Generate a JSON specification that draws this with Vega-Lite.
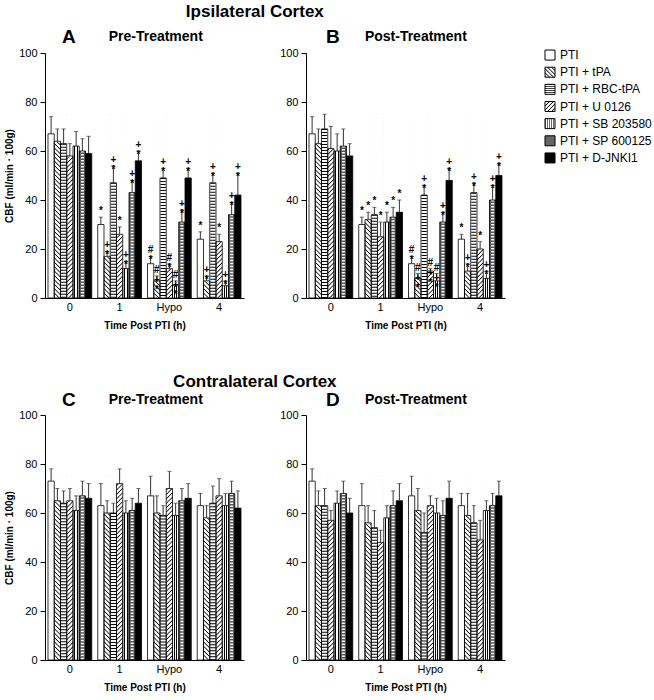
{
"$schema": "https://vega.github.io/schema/vega-lite/v6.json",
"background": "white",
"padding": {"left": 4, "top": 3, "right": 2, "bottom": 2},
"params": [
{"name": "hs", "value": [{"offset":0.003,"color":"#000"},{"offset":0.008,"color":"#fff"},{"offset":0.018,"color":"#fff"},{"offset":0.023,"color":"#000"},{"offset":0.028,"color":"#fff"},{"offset":0.038,"color":"#fff"},{"offset":0.043,"color":"#000"},{"offset":0.048,"color":"#fff"},{"offset":0.058,"color":"#fff"},{"offset":0.063,"color":"#000"},{"offset":0.068,"color":"#fff"},{"offset":0.078,"color":"#fff"},{"offset":0.083,"color":"#000"},{"offset":0.088,"color":"#fff"},{"offset":0.098,"color":"#fff"},{"offset":0.103,"color":"#000"},{"offset":0.108,"color":"#fff"},{"offset":0.118,"color":"#fff"},{"offset":0.123,"color":"#000"},{"offset":0.128,"color":"#fff"},{"offset":0.138,"color":"#fff"},{"offset":0.143,"color":"#000"},{"offset":0.148,"color":"#fff"},{"offset":0.158,"color":"#fff"},{"offset":0.163,"color":"#000"},{"offset":0.168,"color":"#fff"},{"offset":0.178,"color":"#fff"},{"offset":0.183,"color":"#000"},{"offset":0.188,"color":"#fff"},{"offset":0.198,"color":"#fff"},{"offset":0.203,"color":"#000"},{"offset":0.208,"color":"#fff"},{"offset":0.218,"color":"#fff"},{"offset":0.223,"color":"#000"},{"offset":0.228,"color":"#fff"},{"offset":0.238,"color":"#fff"},{"offset":0.243,"color":"#000"},{"offset":0.248,"color":"#fff"},{"offset":0.258,"color":"#fff"},{"offset":0.263,"color":"#000"},{"offset":0.268,"color":"#fff"},{"offset":0.278,"color":"#fff"},{"offset":0.283,"color":"#000"},{"offset":0.288,"color":"#fff"},{"offset":0.298,"color":"#fff"},{"offset":0.303,"color":"#000"},{"offset":0.308,"color":"#fff"},{"offset":0.318,"color":"#fff"},{"offset":0.323,"color":"#000"},{"offset":0.328,"color":"#fff"},{"offset":0.338,"color":"#fff"},{"offset":0.343,"color":"#000"},{"offset":0.348,"color":"#fff"},{"offset":0.358,"color":"#fff"},{"offset":0.363,"color":"#000"},{"offset":0.368,"color":"#fff"},{"offset":0.378,"color":"#fff"},{"offset":0.383,"color":"#000"},{"offset":0.388,"color":"#fff"},{"offset":0.398,"color":"#fff"},{"offset":0.403,"color":"#000"},{"offset":0.408,"color":"#fff"},{"offset":0.418,"color":"#fff"},{"offset":0.423,"color":"#000"},{"offset":0.428,"color":"#fff"},{"offset":0.438,"color":"#fff"},{"offset":0.443,"color":"#000"},{"offset":0.448,"color":"#fff"},{"offset":0.458,"color":"#fff"},{"offset":0.463,"color":"#000"},{"offset":0.468,"color":"#fff"},{"offset":0.478,"color":"#fff"},{"offset":0.483,"color":"#000"},{"offset":0.488,"color":"#fff"},{"offset":0.498,"color":"#fff"},{"offset":0.503,"color":"#000"},{"offset":0.508,"color":"#fff"},{"offset":0.518,"color":"#fff"},{"offset":0.523,"color":"#000"},{"offset":0.528,"color":"#fff"},{"offset":0.538,"color":"#fff"},{"offset":0.543,"color":"#000"},{"offset":0.548,"color":"#fff"},{"offset":0.558,"color":"#fff"},{"offset":0.563,"color":"#000"},{"offset":0.568,"color":"#fff"},{"offset":0.578,"color":"#fff"},{"offset":0.583,"color":"#000"},{"offset":0.588,"color":"#fff"},{"offset":0.598,"color":"#fff"},{"offset":0.603,"color":"#000"},{"offset":0.608,"color":"#fff"},{"offset":0.618,"color":"#fff"},{"offset":0.623,"color":"#000"},{"offset":0.628,"color":"#fff"},{"offset":0.638,"color":"#fff"},{"offset":0.643,"color":"#000"},{"offset":0.648,"color":"#fff"},{"offset":0.658,"color":"#fff"},{"offset":0.663,"color":"#000"},{"offset":0.668,"color":"#fff"},{"offset":0.678,"color":"#fff"},{"offset":0.683,"color":"#000"},{"offset":0.688,"color":"#fff"},{"offset":0.698,"color":"#fff"},{"offset":0.703,"color":"#000"},{"offset":0.708,"color":"#fff"},{"offset":0.718,"color":"#fff"},{"offset":0.723,"color":"#000"},{"offset":0.728,"color":"#fff"},{"offset":0.738,"color":"#fff"},{"offset":0.743,"color":"#000"},{"offset":0.748,"color":"#fff"},{"offset":0.758,"color":"#fff"},{"offset":0.763,"color":"#000"},{"offset":0.768,"color":"#fff"},{"offset":0.778,"color":"#fff"},{"offset":0.783,"color":"#000"},{"offset":0.788,"color":"#fff"},{"offset":0.798,"color":"#fff"},{"offset":0.803,"color":"#000"},{"offset":0.808,"color":"#fff"},{"offset":0.818,"color":"#fff"},{"offset":0.823,"color":"#000"},{"offset":0.828,"color":"#fff"},{"offset":0.838,"color":"#fff"},{"offset":0.843,"color":"#000"},{"offset":0.848,"color":"#fff"},{"offset":0.858,"color":"#fff"},{"offset":0.863,"color":"#000"},{"offset":0.868,"color":"#fff"},{"offset":0.878,"color":"#fff"}]},
{"name": "ls", "value": [{"offset":0.03,"color":"#000"},{"offset":0.08,"color":"#fff"},{"offset":0.17,"color":"#fff"},{"offset":0.23,"color":"#000"},{"offset":0.28,"color":"#fff"},{"offset":0.37,"color":"#fff"},{"offset":0.43,"color":"#000"},{"offset":0.48,"color":"#fff"},{"offset":0.57,"color":"#fff"},{"offset":0.63,"color":"#000"},{"offset":0.68,"color":"#fff"},{"offset":0.77,"color":"#fff"},{"offset":0.83,"color":"#000"},{"offset":0.88,"color":"#fff"},{"offset":0.97,"color":"#fff"}]},
{"name": "gBack", "expr": "{gradient: 'linear', x1: 0, y1: 1, x2: 0.0407, y2: -0.196, stops: hs}"},
{"name": "gFwd", "expr": "{gradient: 'linear', x1: 0, y1: 0, x2: 0.0407, y2: 1.196, stops: hs}"},
{"name": "gV", "value": {"gradient": "linear", "x1": 0, "y1": 0, "x2": 1, "y2": 0, "stops": [{"offset":0,"color":"#fff"},{"offset":0.2,"color":"#fff"},{"offset":0.2,"color":"#000"},{"offset":0.36,"color":"#000"},{"offset":0.36,"color":"#fff"},{"offset":0.6,"color":"#fff"},{"offset":0.6,"color":"#000"},{"offset":0.76,"color":"#000"},{"offset":0.76,"color":"#fff"},{"offset":1,"color":"#fff"}]}},
{"name": "lBack", "expr": "{gradient: 'linear', x1: 0, y1: 1, x2: 1, y2: 0, stops: ls}"},
{"name": "lFwd", "expr": "{gradient: 'linear', x1: 0, y1: 0, x2: 1, y2: 1, stops: ls}"},
{"name": "lH", "expr": "{gradient: 'linear', x1: 0, y1: 0, x2: 0, y2: 1, stops: ls}"},
{"name": "lV", "expr": "{gradient: 'linear', x1: 0, y1: 0, x2: 1, y2: 0, stops: ls}"}
],
"data": {"values": [
{"p":"A","t":"0","g":"PTI","m":67,"hi":74},
{"p":"A","t":"0","g":"PTI + tPA","m":64,"hi":69},
{"p":"A","t":"0","g":"PTI + RBC-tPA","m":63,"hi":69},
{"p":"A","t":"0","g":"PTI + U 0126","m":58,"hi":63},
{"p":"A","t":"0","g":"PTI + SB 203580","m":62,"hi":68},
{"p":"A","t":"0","g":"PTI + SP 600125","m":60,"hi":65},
{"p":"A","t":"0","g":"PTI + D-JNKI1","m":59,"hi":66},
{"p":"A","t":"1","g":"PTI","m":30,"hi":33,"s":"*"},
{"p":"A","t":"1","g":"PTI + tPA","m":17,"hi":19,"s":"+\n*"},
{"p":"A","t":"1","g":"PTI + RBC-tPA","m":47,"hi":54,"s":"+\n*"},
{"p":"A","t":"1","g":"PTI + U 0126","m":26,"hi":29,"s":"*"},
{"p":"A","t":"1","g":"PTI + SB 203580","m":12,"hi":15,"s":"+\n*"},
{"p":"A","t":"1","g":"PTI + SP 600125","m":43,"hi":48,"s":"+\n*"},
{"p":"A","t":"1","g":"PTI + D-JNKI1","m":56,"hi":60,"s":"+\n*"},
{"p":"A","t":"Hypo","g":"PTI","m":14,"hi":17,"s":"#\n*"},
{"p":"A","t":"Hypo","g":"PTI + tPA","m":7,"hi":9,"s":"#\n+\n*"},
{"p":"A","t":"Hypo","g":"PTI + RBC-tPA","m":49,"hi":53,"s":"+\n*"},
{"p":"A","t":"Hypo","g":"PTI + U 0126","m":12,"hi":14,"s":"#\n*"},
{"p":"A","t":"Hypo","g":"PTI + SB 203580","m":5,"hi":7,"s":"#\n+\n*"},
{"p":"A","t":"Hypo","g":"PTI + SP 600125","m":31,"hi":36,"s":"+\n*"},
{"p":"A","t":"Hypo","g":"PTI + D-JNKI1","m":49,"hi":53,"s":"+\n*"},
{"p":"A","t":"4","g":"PTI","m":24,"hi":27,"s":"*"},
{"p":"A","t":"4","g":"PTI + tPA","m":7,"hi":9,"s":"+\n*"},
{"p":"A","t":"4","g":"PTI + RBC-tPA","m":47,"hi":51,"s":"+\n*"},
{"p":"A","t":"4","g":"PTI + U 0126","m":23,"hi":26,"s":"*"},
{"p":"A","t":"4","g":"PTI + SB 203580","m":5,"hi":7,"s":"+\n*"},
{"p":"A","t":"4","g":"PTI + SP 600125","m":34,"hi":39,"s":"+\n*"},
{"p":"A","t":"4","g":"PTI + D-JNKI1","m":42,"hi":51,"s":"+\n*"},
{"p":"B","t":"0","g":"PTI","m":67,"hi":74},
{"p":"B","t":"0","g":"PTI + tPA","m":63,"hi":69},
{"p":"B","t":"0","g":"PTI + RBC-tPA","m":69,"hi":75},
{"p":"B","t":"0","g":"PTI + U 0126","m":61,"hi":70},
{"p":"B","t":"0","g":"PTI + SB 203580","m":60,"hi":67},
{"p":"B","t":"0","g":"PTI + SP 600125","m":62,"hi":69},
{"p":"B","t":"0","g":"PTI + D-JNKI1","m":58,"hi":63},
{"p":"B","t":"1","g":"PTI","m":30,"hi":33,"s":"*"},
{"p":"B","t":"1","g":"PTI + tPA","m":32,"hi":35,"s":"*"},
{"p":"B","t":"1","g":"PTI + RBC-tPA","m":34,"hi":37,"s":"*"},
{"p":"B","t":"1","g":"PTI + U 0126","m":25,"hi":31,"s":"*"},
{"p":"B","t":"1","g":"PTI + SB 203580","m":31,"hi":35,"s":"*"},
{"p":"B","t":"1","g":"PTI + SP 600125","m":33,"hi":37,"s":"*"},
{"p":"B","t":"1","g":"PTI + D-JNKI1","m":35,"hi":40,"s":"*"},
{"p":"B","t":"Hypo","g":"PTI","m":14,"hi":17,"s":"#\n*"},
{"p":"B","t":"Hypo","g":"PTI + tPA","m":8,"hi":10,"s":"#\n+\n*"},
{"p":"B","t":"Hypo","g":"PTI + RBC-tPA","m":42,"hi":46,"s":"+\n*"},
{"p":"B","t":"Hypo","g":"PTI + U 0126","m":11,"hi":12,"s":"#\n+\n*"},
{"p":"B","t":"Hypo","g":"PTI + SB 203580","m":7,"hi":10,"s":"#\n+\n*"},
{"p":"B","t":"Hypo","g":"PTI + SP 600125","m":31,"hi":35,"s":"+\n*"},
{"p":"B","t":"Hypo","g":"PTI + D-JNKI1","m":48,"hi":53,"s":"+\n*"},
{"p":"B","t":"4","g":"PTI","m":24,"hi":26,"s":"*"},
{"p":"B","t":"4","g":"PTI + tPA","m":11,"hi":14,"s":"+\n*"},
{"p":"B","t":"4","g":"PTI + RBC-tPA","m":43,"hi":47,"s":"+\n*"},
{"p":"B","t":"4","g":"PTI + U 0126","m":20,"hi":23,"s":"*"},
{"p":"B","t":"4","g":"PTI + SB 203580","m":8,"hi":11,"s":"+\n*"},
{"p":"B","t":"4","g":"PTI + SP 600125","m":40,"hi":46,"s":"+\n*"},
{"p":"B","t":"4","g":"PTI + D-JNKI1","m":50,"hi":55,"s":"+\n*"},
{"p":"C","t":"0","g":"PTI","m":73,"hi":78},
{"p":"C","t":"0","g":"PTI + tPA","m":65,"hi":70},
{"p":"C","t":"0","g":"PTI + RBC-tPA","m":64,"hi":69},
{"p":"C","t":"0","g":"PTI + U 0126","m":65,"hi":70},
{"p":"C","t":"0","g":"PTI + SB 203580","m":61,"hi":67},
{"p":"C","t":"0","g":"PTI + SP 600125","m":67,"hi":73},
{"p":"C","t":"0","g":"PTI + D-JNKI1","m":66,"hi":72},
{"p":"C","t":"1","g":"PTI","m":63,"hi":72},
{"p":"C","t":"1","g":"PTI + tPA","m":60,"hi":65},
{"p":"C","t":"1","g":"PTI + RBC-tPA","m":60,"hi":64},
{"p":"C","t":"1","g":"PTI + U 0126","m":72,"hi":78},
{"p":"C","t":"1","g":"PTI + SB 203580","m":60,"hi":65},
{"p":"C","t":"1","g":"PTI + SP 600125","m":61,"hi":66},
{"p":"C","t":"1","g":"PTI + D-JNKI1","m":64,"hi":70},
{"p":"C","t":"Hypo","g":"PTI","m":67,"hi":75},
{"p":"C","t":"Hypo","g":"PTI + tPA","m":60,"hi":67},
{"p":"C","t":"Hypo","g":"PTI + RBC-tPA","m":59,"hi":63},
{"p":"C","t":"Hypo","g":"PTI + U 0126","m":70,"hi":77},
{"p":"C","t":"Hypo","g":"PTI + SB 203580","m":59,"hi":64},
{"p":"C","t":"Hypo","g":"PTI + SP 600125","m":65,"hi":70},
{"p":"C","t":"Hypo","g":"PTI + D-JNKI1","m":66,"hi":72},
{"p":"C","t":"4","g":"PTI","m":63,"hi":68},
{"p":"C","t":"4","g":"PTI + tPA","m":58,"hi":63},
{"p":"C","t":"4","g":"PTI + RBC-tPA","m":64,"hi":71},
{"p":"C","t":"4","g":"PTI + U 0126","m":67,"hi":74},
{"p":"C","t":"4","g":"PTI + SB 203580","m":63,"hi":68},
{"p":"C","t":"4","g":"PTI + SP 600125","m":68,"hi":73},
{"p":"C","t":"4","g":"PTI + D-JNKI1","m":62,"hi":69},
{"p":"D","t":"0","g":"PTI","m":73,"hi":78},
{"p":"D","t":"0","g":"PTI + tPA","m":63,"hi":69},
{"p":"D","t":"0","g":"PTI + RBC-tPA","m":63,"hi":70},
{"p":"D","t":"0","g":"PTI + U 0126","m":57,"hi":61},
{"p":"D","t":"0","g":"PTI + SB 203580","m":64,"hi":69},
{"p":"D","t":"0","g":"PTI + SP 600125","m":68,"hi":73},
{"p":"D","t":"0","g":"PTI + D-JNKI1","m":60,"hi":66},
{"p":"D","t":"1","g":"PTI","m":63,"hi":72},
{"p":"D","t":"1","g":"PTI + tPA","m":56,"hi":63},
{"p":"D","t":"1","g":"PTI + RBC-tPA","m":54,"hi":61},
{"p":"D","t":"1","g":"PTI + U 0126","m":48,"hi":53},
{"p":"D","t":"1","g":"PTI + SB 203580","m":58,"hi":63},
{"p":"D","t":"1","g":"PTI + SP 600125","m":63,"hi":69},
{"p":"D","t":"1","g":"PTI + D-JNKI1","m":65,"hi":72},
{"p":"D","t":"Hypo","g":"PTI","m":67,"hi":75},
{"p":"D","t":"Hypo","g":"PTI + tPA","m":61,"hi":70},
{"p":"D","t":"Hypo","g":"PTI + RBC-tPA","m":52,"hi":60},
{"p":"D","t":"Hypo","g":"PTI + U 0126","m":63,"hi":67},
{"p":"D","t":"Hypo","g":"PTI + SB 203580","m":60,"hi":66},
{"p":"D","t":"Hypo","g":"PTI + SP 600125","m":59,"hi":65},
{"p":"D","t":"Hypo","g":"PTI + D-JNKI1","m":66,"hi":73},
{"p":"D","t":"4","g":"PTI","m":63,"hi":68},
{"p":"D","t":"4","g":"PTI + tPA","m":59,"hi":68},
{"p":"D","t":"4","g":"PTI + RBC-tPA","m":56,"hi":63},
{"p":"D","t":"4","g":"PTI + U 0126","m":49,"hi":57},
{"p":"D","t":"4","g":"PTI + SB 203580","m":61,"hi":65},
{"p":"D","t":"4","g":"PTI + SP 600125","m":63,"hi":68},
{"p":"D","t":"4","g":"PTI + D-JNKI1","m":67,"hi":73}
]},
"config": {
"font": "Liberation Sans",
"view": {"stroke": null},
"axis": {"grid": false, "labelFont": "Liberation Sans", "labelFontSize": 11, "labelColor": "#000", "domainColor": "#000", "tickColor": "#000", "titleFont": "Liberation Sans", "titleFontSize": 10, "titleFontWeight": "bold", "titleColor": "#000"},
"axisX": {"labelPadding": 3, "titlePadding": 8},
"axisY": {"values": [0,10,20,30,40,50,60,70,80,90,100], "labelExpr": "datum.value % 20 == 0 ? datum.label : ''", "tickSize": 5, "labelPadding": 3, "titlePadding": 4},
"title": {"font": "Liberation Sans", "fontWeight": "bold", "color": "#000", "subtitleFont": "Liberation Sans", "subtitleFontWeight": "bold", "subtitleColor": "#000"}
},
"spacing": 43,
"vconcat": [
{"spacing": 38, "hconcat": [
{"title": {"text": "Ipsilateral Cortex", "anchor": "middle", "fontSize": 17, "offset": 7}, "spacing": 35, "hconcat": [
{"width": 199, "height": 245,
"title": {"text": "A", "subtitle": "\u200b\u00a0\u00a0\u00a0\u00a0\u00a0\u00a0\u00a0\u00a0\u00a0\u00a0\u00a0\u00a0Pre-Treatment", "anchor": "start", "frame": "group", "dx": 17, "fontSize": 19, "subtitleFontSize": 14, "subtitlePadding": -17, "offset": 0},
"transform": [{"filter": "datum.p == 'A'"}],
"encoding": {
"x": {"field": "t", "type": "nominal", "sort": ["0","1","Hypo","4"], "scale": {"paddingInner": 0.12, "paddingOuter": 0.06}, "axis": {"title": "Time Post PTI (h)", "labelAngle": 0, "ticks": false}},
"xOffset": {"field": "g", "type": "nominal", "sort": ["PTI","PTI + tPA","PTI + RBC-tPA","PTI + U 0126","PTI + SB 203580","PTI + SP 600125","PTI + D-JNKI1"], "scale": {"domain": ["PTI","PTI + tPA","PTI + RBC-tPA","PTI + U 0126","PTI + SB 203580","PTI + SP 600125","PTI + D-JNKI1"], "paddingInner": 0, "paddingOuter": 0}},
"y": {"field": "m", "type": "quantitative", "scale": {"domain": [0, 100]}, "axis": {"title": "CBF (ml/min · 100g)"}}
},
"layer": [
{"mark": {"type": "bar"}, "encoding": {"fill": {"field": "g", "type": "nominal", "scale": {"domain": ["PTI","PTI + tPA","PTI + RBC-tPA","PTI + U 0126","PTI + SB 203580","PTI + SP 600125","PTI + D-JNKI1"], "range": ["#fff","#fff","#fff","#fff","#fff","#555","#000"]}, "legend": null}}},
{"transform": [{"filter": "datum.g == 'PTI + SB 203580'"}], "mark": {"type": "bar", "fill": {"expr": "gV"}}},
{"transform": [{"filter": "datum.g == 'PTI + RBC-tPA'"}], "mark": {"type": "rule", "strokeWidth": 6, "strokeDash": [1, 2], "color": "#000"}, "encoding": {"y2": {"datum": 0}}},
{"transform": [{"filter": "datum.g == 'PTI + tPA'"}], "mark": {"type": "bar", "fill": {"expr": "gBack"}}, "encoding": {"y": {"datum": 75, "type": "quantitative", "axis": {"title": "CBF (ml/min · 100g)"}}, "y2": {"datum": 0}}},
{"transform": [{"filter": "datum.g == 'PTI + U 0126'"}], "mark": {"type": "bar", "fill": {"expr": "gFwd"}}, "encoding": {"y": {"datum": 75, "type": "quantitative", "axis": {"title": "CBF (ml/min · 100g)"}}, "y2": {"datum": 0}}},
{"transform": [{"filter": "datum.g == 'PTI + tPA' || datum.g == 'PTI + U 0126'"}], "mark": {"type": "bar", "fill": "#fff", "stroke": "#fff", "strokeWidth": 1}, "encoding": {"y2": {"datum": 75}}},
{"transform": [{"filter": "datum.g == 'PTI + SP 600125'"}], "mark": {"type": "rule", "strokeWidth": 3, "strokeDash": [1.5, 1.5], "color": "#fff"}, "encoding": {"y2": {"datum": 0}}},
{"mark": {"type": "bar", "fillOpacity": 0, "stroke": "#000", "strokeWidth": 0.8}},
{"mark": {"type": "rule", "color": "#333", "strokeWidth": 1}, "encoding": {"y2": {"field": "hi"}}},
{"mark": {"type": "tick", "orient": "horizontal", "size": 4, "thickness": 1, "color": "#333"}, "encoding": {"y": {"field": "hi", "type": "quantitative", "axis": {"title": "CBF (ml/min · 100g)"}}}},
{"transform": [{"filter": "datum.s"}], "mark": {"type": "text", "baseline": "bottom", "dy": -1, "fontSize": 10, "fontWeight": "bold", "lineHeight": 10, "lineBreak": "\n", "color": "#000"}, "encoding": {"y": {"field": "hi", "type": "quantitative", "axis": {"title": "CBF (ml/min · 100g)"}}, "text": {"field": "s"}}}
]},
{"width": 199, "height": 245,
"title": {"text": "B", "subtitle": "\u200b\u00a0\u00a0\u00a0\u00a0\u00a0\u00a0\u00a0\u00a0\u00a0\u00a0Post-Treatment", "anchor": "start", "frame": "group", "dx": 20, "fontSize": 19, "subtitleFontSize": 14, "subtitlePadding": -17, "offset": 0},
"transform": [{"filter": "datum.p == 'B'"}],
"encoding": {
"x": {"field": "t", "type": "nominal", "sort": ["0","1","Hypo","4"], "scale": {"paddingInner": 0.12, "paddingOuter": 0.06}, "axis": {"title": "Time Post PTI (h)", "labelAngle": 0, "ticks": false}},
"xOffset": {"field": "g", "type": "nominal", "sort": ["PTI","PTI + tPA","PTI + RBC-tPA","PTI + U 0126","PTI + SB 203580","PTI + SP 600125","PTI + D-JNKI1"], "scale": {"domain": ["PTI","PTI + tPA","PTI + RBC-tPA","PTI + U 0126","PTI + SB 203580","PTI + SP 600125","PTI + D-JNKI1"], "paddingInner": 0, "paddingOuter": 0}},
"y": {"field": "m", "type": "quantitative", "scale": {"domain": [0, 100]}, "axis": {"title": null}}
},
"layer": [
{"mark": {"type": "bar"}, "encoding": {"fill": {"field": "g", "type": "nominal", "scale": {"domain": ["PTI","PTI + tPA","PTI + RBC-tPA","PTI + U 0126","PTI + SB 203580","PTI + SP 600125","PTI + D-JNKI1"], "range": ["#fff","#fff","#fff","#fff","#fff","#555","#000"]}, "legend": null}}},
{"transform": [{"filter": "datum.g == 'PTI + SB 203580'"}], "mark": {"type": "bar", "fill": {"expr": "gV"}}},
{"transform": [{"filter": "datum.g == 'PTI + RBC-tPA'"}], "mark": {"type": "rule", "strokeWidth": 6, "strokeDash": [1, 2], "color": "#000"}, "encoding": {"y2": {"datum": 0}}},
{"transform": [{"filter": "datum.g == 'PTI + tPA'"}], "mark": {"type": "bar", "fill": {"expr": "gBack"}}, "encoding": {"y": {"datum": 75, "type": "quantitative", "axis": {"title": null}}, "y2": {"datum": 0}}},
{"transform": [{"filter": "datum.g == 'PTI + U 0126'"}], "mark": {"type": "bar", "fill": {"expr": "gFwd"}}, "encoding": {"y": {"datum": 75, "type": "quantitative", "axis": {"title": null}}, "y2": {"datum": 0}}},
{"transform": [{"filter": "datum.g == 'PTI + tPA' || datum.g == 'PTI + U 0126'"}], "mark": {"type": "bar", "fill": "#fff", "stroke": "#fff", "strokeWidth": 1}, "encoding": {"y2": {"datum": 75}}},
{"transform": [{"filter": "datum.g == 'PTI + SP 600125'"}], "mark": {"type": "rule", "strokeWidth": 3, "strokeDash": [1.5, 1.5], "color": "#fff"}, "encoding": {"y2": {"datum": 0}}},
{"mark": {"type": "bar", "fillOpacity": 0, "stroke": "#000", "strokeWidth": 0.8}},
{"mark": {"type": "rule", "color": "#333", "strokeWidth": 1}, "encoding": {"y2": {"field": "hi"}}},
{"mark": {"type": "tick", "orient": "horizontal", "size": 4, "thickness": 1, "color": "#333"}, "encoding": {"y": {"field": "hi", "type": "quantitative", "axis": {"title": null}}}},
{"transform": [{"filter": "datum.s"}], "mark": {"type": "text", "baseline": "bottom", "dy": -1, "fontSize": 10, "fontWeight": "bold", "lineHeight": 10, "lineBreak": "\n", "color": "#000"}, "encoding": {"y": {"field": "hi", "type": "quantitative", "axis": {"title": null}}, "text": {"field": "s"}}}
]}
]},
{"width": 10, "height": 107,
"transform": [{"filter": "datum.p == 'A' && datum.t == '0'"}],
"encoding": {"y": {"field": "g", "type": "nominal", "sort": ["PTI","PTI + tPA","PTI + RBC-tPA","PTI + U 0126","PTI + SB 203580","PTI + SP 600125","PTI + D-JNKI1"], "scale": {"type": "point", "padding": 0.12, "domain": ["PTI","PTI + tPA","PTI + RBC-tPA","PTI + U 0126","PTI + SB 203580","PTI + SP 600125","PTI + D-JNKI1"]}, "axis": null}},
"layer": [
{"transform": [{"filter": "datum.g == 'PTI'"}], "mark": {"type": "square", "size": 100, "filled": true, "opacity": 1, "fill": "#fff", "stroke": "#000", "strokeWidth": 1}},
{"transform": [{"filter": "datum.g == 'PTI + tPA'"}], "mark": {"type": "square", "size": 100, "filled": true, "opacity": 1, "fill": {"expr": "lBack"}, "stroke": "#000", "strokeWidth": 1}},
{"transform": [{"filter": "datum.g == 'PTI + RBC-tPA'"}], "mark": {"type": "square", "size": 100, "filled": true, "opacity": 1, "fill": {"expr": "lH"}, "stroke": "#000", "strokeWidth": 1}},
{"transform": [{"filter": "datum.g == 'PTI + U 0126'"}], "mark": {"type": "square", "size": 100, "filled": true, "opacity": 1, "fill": {"expr": "lFwd"}, "stroke": "#000", "strokeWidth": 1}},
{"transform": [{"filter": "datum.g == 'PTI + SB 203580'"}], "mark": {"type": "square", "size": 100, "filled": true, "opacity": 1, "fill": {"expr": "lV"}, "stroke": "#000", "strokeWidth": 1}},
{"transform": [{"filter": "datum.g == 'PTI + SP 600125'"}], "mark": {"type": "square", "size": 100, "filled": true, "opacity": 1, "fill": "#666", "stroke": "#000", "strokeWidth": 1}},
{"transform": [{"filter": "datum.g == 'PTI + D-JNKI1'"}], "mark": {"type": "square", "size": 100, "filled": true, "opacity": 1, "fill": "#000", "stroke": "#000", "strokeWidth": 1}},
{"mark": {"type": "text", "align": "left", "dx": 10, "fontSize": 12, "color": "#000"}, "encoding": {"text": {"field": "g"}}}
]}
]},
{"title": {"text": "Contralateral Cortex", "anchor": "middle", "fontSize": 17, "offset": 0}, "spacing": 35, "hconcat": [
{"width": 199, "height": 245,
"title": {"text": "C", "subtitle": "\u200b\u00a0\u00a0\u00a0\u00a0\u00a0\u00a0\u00a0\u00a0\u00a0\u00a0\u00a0\u00a0Pre-Treatment", "anchor": "start", "frame": "group", "dx": 17, "fontSize": 19, "subtitleFontSize": 14, "subtitlePadding": -17, "offset": -1},
"transform": [{"filter": "datum.p == 'C'"}],
"encoding": {
"x": {"field": "t", "type": "nominal", "sort": ["0","1","Hypo","4"], "scale": {"paddingInner": 0.12, "paddingOuter": 0.06}, "axis": {"title": "Time Post PTI (h)", "labelAngle": 0, "ticks": false}},
"xOffset": {"field": "g", "type": "nominal", "sort": ["PTI","PTI + tPA","PTI + RBC-tPA","PTI + U 0126","PTI + SB 203580","PTI + SP 600125","PTI + D-JNKI1"], "scale": {"domain": ["PTI","PTI + tPA","PTI + RBC-tPA","PTI + U 0126","PTI + SB 203580","PTI + SP 600125","PTI + D-JNKI1"], "paddingInner": 0, "paddingOuter": 0}},
"y": {"field": "m", "type": "quantitative", "scale": {"domain": [0, 100]}, "axis": {"title": "CBF (ml/min · 100g)"}}
},
"layer": [
{"mark": {"type": "bar"}, "encoding": {"fill": {"field": "g", "type": "nominal", "scale": {"domain": ["PTI","PTI + tPA","PTI + RBC-tPA","PTI + U 0126","PTI + SB 203580","PTI + SP 600125","PTI + D-JNKI1"], "range": ["#fff","#fff","#fff","#fff","#fff","#555","#000"]}, "legend": null}}},
{"transform": [{"filter": "datum.g == 'PTI + SB 203580'"}], "mark": {"type": "bar", "fill": {"expr": "gV"}}},
{"transform": [{"filter": "datum.g == 'PTI + RBC-tPA'"}], "mark": {"type": "rule", "strokeWidth": 6, "strokeDash": [1, 2], "color": "#000"}, "encoding": {"y2": {"datum": 0}}},
{"transform": [{"filter": "datum.g == 'PTI + tPA'"}], "mark": {"type": "bar", "fill": {"expr": "gBack"}}, "encoding": {"y": {"datum": 75, "type": "quantitative", "axis": {"title": "CBF (ml/min · 100g)"}}, "y2": {"datum": 0}}},
{"transform": [{"filter": "datum.g == 'PTI + U 0126'"}], "mark": {"type": "bar", "fill": {"expr": "gFwd"}}, "encoding": {"y": {"datum": 75, "type": "quantitative", "axis": {"title": "CBF (ml/min · 100g)"}}, "y2": {"datum": 0}}},
{"transform": [{"filter": "datum.g == 'PTI + tPA' || datum.g == 'PTI + U 0126'"}], "mark": {"type": "bar", "fill": "#fff", "stroke": "#fff", "strokeWidth": 1}, "encoding": {"y2": {"datum": 75}}},
{"transform": [{"filter": "datum.g == 'PTI + SP 600125'"}], "mark": {"type": "rule", "strokeWidth": 3, "strokeDash": [1.5, 1.5], "color": "#fff"}, "encoding": {"y2": {"datum": 0}}},
{"mark": {"type": "bar", "fillOpacity": 0, "stroke": "#000", "strokeWidth": 0.8}},
{"mark": {"type": "rule", "color": "#333", "strokeWidth": 1}, "encoding": {"y2": {"field": "hi"}}},
{"mark": {"type": "tick", "orient": "horizontal", "size": 4, "thickness": 1, "color": "#333"}, "encoding": {"y": {"field": "hi", "type": "quantitative", "axis": {"title": "CBF (ml/min · 100g)"}}}}
]},
{"width": 199, "height": 245,
"title": {"text": "D", "subtitle": "\u200b\u00a0\u00a0\u00a0\u00a0\u00a0\u00a0\u00a0\u00a0\u00a0\u00a0Post-Treatment", "anchor": "start", "frame": "group", "dx": 20, "fontSize": 19, "subtitleFontSize": 14, "subtitlePadding": -17, "offset": -1},
"transform": [{"filter": "datum.p == 'D'"}],
"encoding": {
"x": {"field": "t", "type": "nominal", "sort": ["0","1","Hypo","4"], "scale": {"paddingInner": 0.12, "paddingOuter": 0.06}, "axis": {"title": "Time Post PTI (h)", "labelAngle": 0, "ticks": false}},
"xOffset": {"field": "g", "type": "nominal", "sort": ["PTI","PTI + tPA","PTI + RBC-tPA","PTI + U 0126","PTI + SB 203580","PTI + SP 600125","PTI + D-JNKI1"], "scale": {"domain": ["PTI","PTI + tPA","PTI + RBC-tPA","PTI + U 0126","PTI + SB 203580","PTI + SP 600125","PTI + D-JNKI1"], "paddingInner": 0, "paddingOuter": 0}},
"y": {"field": "m", "type": "quantitative", "scale": {"domain": [0, 100]}, "axis": {"title": null}}
},
"layer": [
{"mark": {"type": "bar"}, "encoding": {"fill": {"field": "g", "type": "nominal", "scale": {"domain": ["PTI","PTI + tPA","PTI + RBC-tPA","PTI + U 0126","PTI + SB 203580","PTI + SP 600125","PTI + D-JNKI1"], "range": ["#fff","#fff","#fff","#fff","#fff","#555","#000"]}, "legend": null}}},
{"transform": [{"filter": "datum.g == 'PTI + SB 203580'"}], "mark": {"type": "bar", "fill": {"expr": "gV"}}},
{"transform": [{"filter": "datum.g == 'PTI + RBC-tPA'"}], "mark": {"type": "rule", "strokeWidth": 6, "strokeDash": [1, 2], "color": "#000"}, "encoding": {"y2": {"datum": 0}}},
{"transform": [{"filter": "datum.g == 'PTI + tPA'"}], "mark": {"type": "bar", "fill": {"expr": "gBack"}}, "encoding": {"y": {"datum": 75, "type": "quantitative", "axis": {"title": null}}, "y2": {"datum": 0}}},
{"transform": [{"filter": "datum.g == 'PTI + U 0126'"}], "mark": {"type": "bar", "fill": {"expr": "gFwd"}}, "encoding": {"y": {"datum": 75, "type": "quantitative", "axis": {"title": null}}, "y2": {"datum": 0}}},
{"transform": [{"filter": "datum.g == 'PTI + tPA' || datum.g == 'PTI + U 0126'"}], "mark": {"type": "bar", "fill": "#fff", "stroke": "#fff", "strokeWidth": 1}, "encoding": {"y2": {"datum": 75}}},
{"transform": [{"filter": "datum.g == 'PTI + SP 600125'"}], "mark": {"type": "rule", "strokeWidth": 3, "strokeDash": [1.5, 1.5], "color": "#fff"}, "encoding": {"y2": {"datum": 0}}},
{"mark": {"type": "bar", "fillOpacity": 0, "stroke": "#000", "strokeWidth": 0.8}},
{"mark": {"type": "rule", "color": "#333", "strokeWidth": 1}, "encoding": {"y2": {"field": "hi"}}},
{"mark": {"type": "tick", "orient": "horizontal", "size": 4, "thickness": 1, "color": "#333"}, "encoding": {"y": {"field": "hi", "type": "quantitative", "axis": {"title": null}}}}
]}
]}
]
}
